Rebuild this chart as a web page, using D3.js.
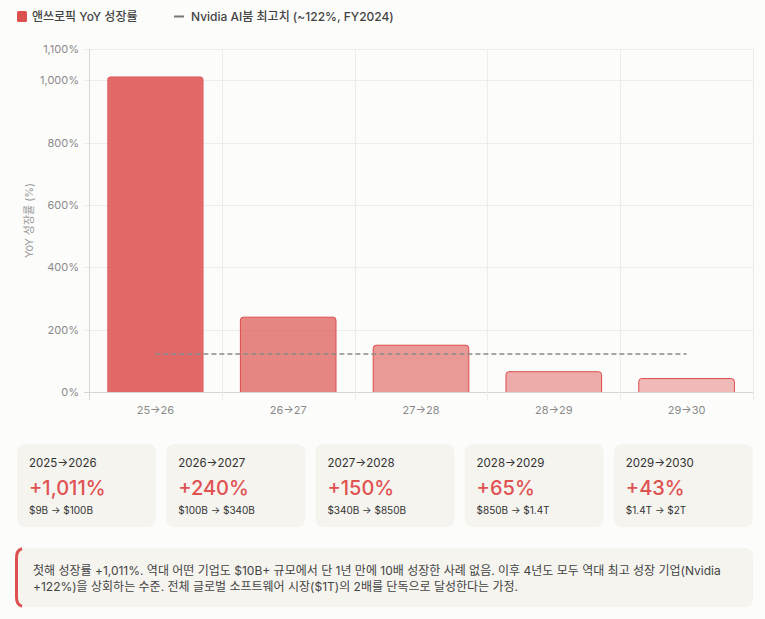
<!DOCTYPE html>
<html>
<head>
<meta charset="utf-8">
<script src="https://cdn.jsdelivr.net/npm/d3@7"></script>
<style>
  html, body { margin: 0; padding: 0; background: #fcfcfb; }
  body { width: 765px; height: 619px; overflow: hidden; font-family: Inter, "Noto Sans CJK KR", sans-serif; }
</style>
</head>
<body>
<div id="chart"></div>
<script>
// chart data
var categories = ["25→26", "26→27", "27→28", "28→29", "29→30"];
var growth = [1011, 240, 150, 65, 43];
var nvidiaPeak = 122;
var yTicks = [0, 200, 400, 600, 800, 1000, 1100];

// card data
var cardPeriods = ["2025→2026", "2026→2027", "2027→2028", "2028→2029", "2029→2030"];
var cardGrowth = ["+1,011%", "+240%", "+150%", "+65%", "+43%"];
var cardRevenue = ["$9B → $100B", "$100B → $340B", "$340B → $850B", "$850B → $1.4T", "$1.4T → $2T"];

var noteLines = [
	"첫해 성장률 +1,011%. 역대 어떤 기업도 $10B+ 규모에서 단 1년 만에 10배 성장한 사례 없음. 이후 4년도 모두 역대 최고 성장 기업(Nvidia",
	"+122%)을 상회하는 수준. 전체 글로벌 소프트웨어 시장($1T)의 2배를 단독으로 달성한다는 가정."
];

var barFills = ["rgba(222,90,88,0.9)", "rgba(222,100,96,0.78)", "rgba(222,100,96,0.65)", "rgba(222,100,96,0.53)", "rgba(222,100,96,0.43)"];

var W = 765, H = 619;
var svg = d3.select("#chart").append("svg")
	.attr("width", W)
	.attr("height", H);

var plotL = 89, plotR = 753, plotT = 49, plotB = 392;

var x = d3.scaleBand()
	.domain(categories)
	.range([plotL, plotR]);

var y = d3.scaleLinear()
	.domain([0, 1100])
	.range([plotB, plotT]);

// grid
var grid = svg.append("g");
grid.selectAll(".hgrid")
	.data(yTicks)
	.enter()
	.append("line")
		.attr("x1", plotL - 5)
		.attr("x2", plotR)
		.attr("y1", d => Math.round(y(d)) + 0.5)
		.attr("y2", d => Math.round(y(d)) + 0.5)
		.attr("stroke", d => d == 0 ? "#d6d6d6" : "#ececec");

var vx = categories.map(c => x(c)).concat([plotR]);
grid.selectAll(".vgrid")
	.data(vx)
	.enter()
	.append("line")
		.attr("x1", d => Math.round(d) + 0.5)
		.attr("x2", d => Math.round(d) + 0.5)
		.attr("y1", plotT)
		.attr("y2", plotB + 8)
		.attr("stroke", (d, i) => i == 0 ? "#d6d6d6" : "#ececec");

// y labels
svg.selectAll(".ylab")
	.data(yTicks)
	.enter()
	.append("text")
		.attr("x", plotL - 10)
		.attr("y", d => y(d) + 4)
		.attr("text-anchor", "end")
		.attr("font-size", "11px")
		.attr("fill", "#8a8a8a")
		.text(d => d3.format(",")(d) + "%");

svg.append("text")
	.attr("transform", "translate(33," + ((plotT + plotB) / 2) + ") rotate(-90)")
	.attr("text-anchor", "middle")
	.attr("font-size", "11px")
	.attr("fill", "#9a9a9a")
	.text("YoY 성장률 (%)");

// x labels
svg.selectAll(".xlab")
	.data(categories)
	.enter()
	.append("text")
		.attr("x", d => x(d) + x.bandwidth() / 2)
		.attr("y", 414)
		.attr("text-anchor", "middle")
		.attr("font-size", "11px")
		.attr("fill", "#8a8a8a")
		.text(d => d);

// bars with rounded top
var bw = x.bandwidth() * 0.72;
function barPath(d, i) {
	var x0 = x(categories[i]) + (x.bandwidth() - bw) / 2;
	var x1 = x0 + bw;
	var y0 = y(d), y1 = y(0);
	var r = 3;
	return "M" + x0 + "," + y1 + "L" + x0 + "," + (y0 + r) + "Q" + x0 + "," + y0 + " " + (x0 + r) + "," + y0 +
		"L" + (x1 - r) + "," + y0 + "Q" + x1 + "," + y0 + " " + x1 + "," + (y0 + r) + "L" + x1 + "," + y1;
}
svg.selectAll(".bar")
	.data(growth)
	.enter()
	.append("path")
		.attr("d", barPath)
		.attr("fill", (d, i) => barFills[i])
		.attr("stroke", (d, i) => i == 0 ? "rgba(222,90,88,0.6)" : "#dc4c4c")
		.attr("stroke-width", 1);

// nvidia line
svg.append("line")
	.attr("x1", x(categories[0]) + x.bandwidth() / 2)
	.attr("x2", x(categories[categories.length - 1]) + x.bandwidth() / 2)
	.attr("y1", y(nvidiaPeak))
	.attr("y2", y(nvidiaPeak))
	.attr("stroke", "#8a8a8a")
	.attr("stroke-width", 1.5)
	.attr("stroke-dasharray", "5,3");

// legend
svg.append("rect")
	.attr("x", 17).attr("y", 11).attr("width", 10).attr("height", 11).attr("rx", 1.5)
	.attr("fill", "#dc5050");
svg.append("text")
	.attr("x", 32).attr("y", 21)
	.attr("font-size", "12px").attr("font-weight", 500).attr("fill", "#444")
	.text("앤쓰로픽 YoY 성장률");
svg.append("line")
	.attr("x1", 174).attr("x2", 184).attr("y1", 16.5).attr("y2", 16.5)
	.attr("stroke", "#777").attr("stroke-width", 2);
svg.append("text")
	.attr("x", 191).attr("y", 21)
	.attr("font-size", "12px").attr("font-weight", 500).attr("fill", "#444")
	.text("Nvidia AI붐 최고치 (~122%, FY2024)");

// cards
var cardW = 139, cardGap = 10.2;
var cards = svg.selectAll(".card")
	.data(cardPeriods)
	.enter()
	.append("g")
		.attr("transform", (d, i) => "translate(" + (17 + i * (cardW + cardGap)) + ",444)");
cards.append("rect")
	.attr("width", cardW).attr("height", 83).attr("rx", 8)
	.attr("fill", "#f5f4ef");
cards.append("text")
	.attr("x", 12).attr("y", 23)
	.attr("font-size", "11.5px").attr("fill", "#333")
	.text(d => d);
cards.append("text")
	.attr("x", 12).attr("y", 51)
	.attr("font-size", "20px").attr("font-weight", 500).attr("fill", "#e05252")
	.text((d, i) => cardGrowth[i]);
cards.append("text")
	.attr("x", 12).attr("y", 70)
	.attr("font-size", "10px").attr("fill", "#333")
	.text((d, i) => cardRevenue[i]);

// note box
var note = svg.append("g").attr("transform", "translate(15,548)");
note.append("rect")
	.attr("width", 738).attr("height", 59).attr("rx", 7)
	.attr("fill", "#f5f4ef");
note.append("path")
	.attr("d", "M7,0.8 Q1.5,2 1.5,10 L1.5,49 Q1.5,57 7,58.2")
	.attr("fill", "none")
	.attr("stroke", "#dc5050")
	.attr("stroke-width", 3);
note.selectAll(".nl")
	.data(noteLines)
	.enter()
	.append("text")
		.attr("x", 18)
		.attr("y", (d, i) => 27 + i * 16)
		.attr("font-size", "12px")
		.attr("fill", "#444")
		.text(d => d);
</script>
</body>
</html>
